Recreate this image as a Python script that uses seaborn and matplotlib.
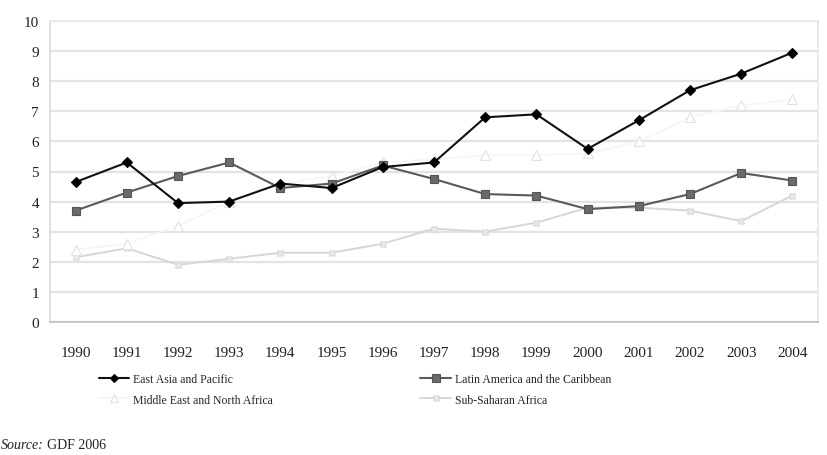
import matplotlib
matplotlib.use("Agg")
import matplotlib.pyplot as plt
from matplotlib.lines import Line2D
import seaborn as sns
import pandas as pd
import numpy as np

years = [str(y) for y in range(1990, 2005)]
east_asia = [4.65, 5.3, 3.95, 4.0, 4.6, 4.45, 5.15, 5.3, 6.8, 6.9, 5.75, 6.7, 7.7, 8.25, 8.95]
latin_america = [3.7, 4.3, 4.85, 5.3, 4.45, 4.6, 5.2, 4.75, 4.25, 4.2, 3.75, 3.85, 4.25, 4.95, 4.7]
middle_east = [2.4, 2.6, 3.2, 4.0, 4.6, 4.85, 5.3, 5.4, 5.55, 5.55, 5.6, 6.0, 6.8, 7.2, 7.4]
sub_saharan = [2.15, 2.45, 1.9, 2.1, 2.3, 2.3, 2.6, 3.1, 3.0, 3.3, 3.8, 3.8, 3.7, 3.35, 4.2]

regions = ["East Asia and Pacific", "Latin America and the Caribbean",
           "Middle East and North Africa", "Sub-Saharan Africa"]
series = [east_asia, latin_america, middle_east, sub_saharan]

df = pd.DataFrame({
    "year": np.tile(years, len(regions)),
    "value": np.concatenate(series),
    "region": np.repeat(regions, len(years)),
})

sns.set_style("white")
plt.rcParams["font.family"] = ["Liberation Serif", "DejaVu Serif"]

fig = plt.figure(figsize=(8.27, 4.56), dpi=100)
ax = fig.add_axes([50 / 827, 1 - 323 / 456, 768 / 827, 301 / 456])

# per-region line and marker styling
styles = {
    regions[0]: dict(color="#111111", marker="D", markersize=5, markerfacecolor="#000000",
                     markeredgecolor="#000000", linewidth=1.5),
    regions[1]: dict(color="#5a5a5a", marker="s", markersize=6, markerfacecolor="#6a6a6a",
                     markeredgecolor="#555555", linewidth=1.5),
    regions[2]: dict(color="#f6f6f6", marker="^", markersize=6.5, markerfacecolor="#ffffff",
                     markeredgecolor="#e2e2e2", linewidth=1.4),
    regions[3]: dict(color="#d6d6d6", marker="X", markersize=5, markerfacecolor="#ebebeb",
                     markeredgecolor="#dadada", linewidth=1.4),
}

for reg in [regions[3], regions[2], regions[1], regions[0]]:
    sub = df[df["region"] == reg]
    sns.lineplot(data=sub, x="year", y="value", ax=ax, sort=False, legend=False,
                 markeredgewidth=0.8, **styles[reg])

ax.set_xlim(-0.5, len(years) - 0.5)
ax.set_ylim(0, 10)
ax.set_yticks(range(0, 11))
ax.set_xlabel("")
ax.set_ylabel("")
ax.grid(axis="y", color="#e3e3e3", linewidth=1.6)
ax.set_axisbelow(True)

for side in ["top", "right"]:
    ax.spines[side].set_color("#e6e6e6")
    ax.spines[side].set_linewidth(1.2)
ax.spines["left"].set_color("#dcdcdc")
ax.spines["left"].set_linewidth(1.2)
ax.spines["bottom"].set_color("#bdbdbd")
ax.spines["bottom"].set_linewidth(1.2)

ax.tick_params(axis="y", length=4, color="#cccccc", labelsize=11, pad=4, labelcolor="#222222")
ax.tick_params(axis="x", length=0, labelsize=11, pad=17, labelcolor="#222222")
ax.set_xticks(np.arange(-0.5, len(years), 1.0), minor=True)
ax.tick_params(axis="x", which="minor", length=4, color="#cccccc", direction="out")

# legend: row 1 East Asia / Latin America, row 2 Middle East / Sub-Saharan
legend_order = [regions[0], regions[2], regions[1], regions[3]]
handles = []
for reg in legend_order:
    st = dict(styles[reg])
    st["markersize"] = st["markersize"] - 0.5
    handles.append(Line2D([0], [0], label=reg, markeredgewidth=0.8, **st))

fig.legend(handles=handles, loc="upper left", bbox_to_anchor=(94 / 827, 1 - 369 / 456),
           ncol=2, frameon=False, fontsize=8.5, handlelength=2.6, handletextpad=0.3,
           columnspacing=12.5, labelspacing=0.75, borderaxespad=0)

t1 = fig.text(0.001, 1 - 446 / 456, "Source:", fontsize=10, style="italic",
              va="center", ha="left", color="#222222")
fig.canvas.draw()
bb = t1.get_window_extent().transformed(fig.transFigure.inverted())
fig.text(bb.x1 + 0.004, 1 - 446 / 456, "GDF 2006", fontsize=10,
         va="center", ha="left", color="#222222")

fig.savefig("out.png", dpi=100)
